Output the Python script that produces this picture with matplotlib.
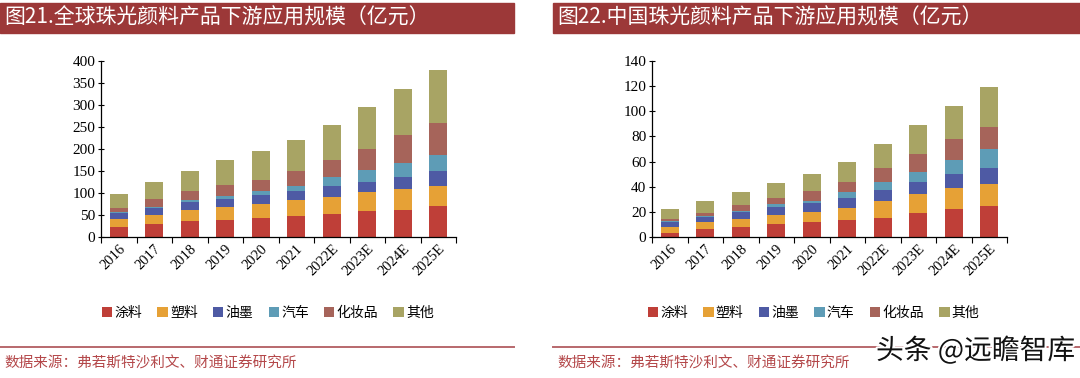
import matplotlib
matplotlib.use("Agg")
import matplotlib.pyplot as plt
import matplotlib.patheffects as pe
from matplotlib.patches import Rectangle
import numpy as np

plt.rcParams["font.family"] = ["Noto Sans CJK SC", "DejaVu Sans"]

years = ["2016", "2017", "2018", "2019", "2020", "2021",
         "2022E", "2023E", "2024E", "2025E"]
segments = ["涂料", "塑料", "油墨", "汽车", "化妆品", "其他"]

# global market, cumulative tops (亿元)
global_tops = {
    "涂料":   [22, 29, 36, 39, 43, 47, 53, 58, 62, 70],
    "塑料":   [41, 51, 61, 68, 74, 83, 91, 102, 108, 117],
    "油墨":   [54, 66, 80, 87, 95, 105, 117, 126, 136, 149],
    "汽车":   [57, 68, 83, 93, 104, 117, 136, 152, 169, 187],
    "化妆品": [67, 86, 104, 119, 130, 150, 176, 201, 231, 258],
    "其他":   [98, 124, 151, 176, 195, 220, 255, 295, 337, 380],
}
# China market, cumulative tops (亿元)
china_tops = {
    "涂料":   [3.3, 6.6, 8, 10.6, 12, 13.3, 15.4, 19, 22.6, 24.7],
    "塑料":   [8, 12, 14.6, 17.3, 20, 23.4, 28.4, 34, 39, 42],
    "油墨":   [12, 16, 20, 24, 27, 31, 37, 44, 50.5, 55],
    "汽车":   [12.7, 17, 21, 26, 29, 36, 44, 52, 61.6, 70],
    "化妆品": [14.6, 19.4, 25.8, 31, 36.6, 44, 54.5, 66, 78, 87.6],
    "其他":   [22.2, 29, 35.6, 42.8, 50, 60, 74, 89, 104, 119],
}

COLOURS = ["#BF3F38", "#E6A136", "#4E5AA4", "#5E9CB6", "#A6645A", "#A8A464"]
TITLE_BG = "#9C3838"
SOURCE_RED = "#B4484A"
SERIF = ["Liberation Serif", "DejaVu Serif"]

W, H = 1080, 378


def fx(px):
    return px / W


def fy(py):
    return 1 - py / H


def draw_panel(fig, left_px, tops, ymax, ystep, legend_x):
    ax = fig.add_axes([fx(left_px), fy(237), fx(355), (237 - 61) / H])
    x = np.arange(len(years))
    prev = np.zeros(len(years))
    for seg, col in zip(segments, COLOURS):
        top = np.array(tops[seg], dtype=float)
        ax.bar(x, top - prev, bottom=prev, width=0.5, color=col,
               label=seg, zorder=2)
        prev = top
    ax.set_xlim(-0.5, len(years) - 0.5)
    ax.set_ylim(0, ymax)
    ax.set_yticks(np.arange(0, ymax + 1, ystep))
    ax.set_xticks(x)
    ax.set_xticklabels(years, rotation=45, ha="right", rotation_mode="anchor",
                       family=SERIF, fontsize=10.5)
    for lbl in ax.get_yticklabels():
        lbl.set_family(SERIF)
        lbl.set_fontsize(11)
    ax.set_xticks(np.arange(-0.5, len(years)), minor=True)
    ax.tick_params(axis="x", which="major", length=0, pad=4)
    ax.tick_params(axis="x", which="minor", length=4, direction="out",
                   width=0.8)
    ax.tick_params(axis="y", length=4, direction="inout", width=0.8, pad=2)
    for s in ("top", "right"):
        ax.spines[s].set_visible(False)
    for s in ("left", "bottom"):
        ax.spines[s].set_linewidth(0.9)
    ax.legend(loc="center", bbox_to_anchor=(legend_x, -0.43), ncol=6,
              frameon=False, fontsize=10, handlelength=0.75,
              handleheight=0.75, handletextpad=0.15, columnspacing=1.1,
              borderaxespad=0)
    return ax


def header_footer(fig, x0, x1, title):
    fig.add_artist(Rectangle((fx(x0), fy(33)), fx(x1 - x0), 30 / H,
                             transform=fig.transFigure, color=TITLE_BG,
                             zorder=0))
    fig.text(fx(x0 + 4), fy(18), title, color="white", fontsize=15,
             va="center", ha="left")
    fig.add_artist(plt.Line2D([fx(x0), fx(x1)], [fy(347), fy(347)],
                              transform=fig.transFigure, color="#B8686C",
                              linewidth=1.4))
    fig.text(fx(x0 + 4), fy(364), "数据来源：弗若斯特沙利文、财通证券研究所",
             color=SOURCE_RED, fontsize=10.5, va="center", ha="left")


fig = plt.figure(figsize=(W / 100, H / 100), dpi=100)

draw_panel(fig, 101, global_tops, 400, 50, 0.47)
draw_panel(fig, 652, china_tops, 140, 20, 0.455)

header_footer(fig, 0, 514, "图21.全球珠光颜料产品下游应用规模（亿元）")
header_footer(fig, 553, 1080, "图22.中国珠光颜料产品下游应用规模（亿元）")

fig.text(fx(1075), fy(351), "头条 @远瞻智库", color="#111111", fontsize=20,
         ha="right", va="center",
         path_effects=[pe.withStroke(linewidth=3, foreground="white")])

fig.savefig("out.png", dpi=100)
